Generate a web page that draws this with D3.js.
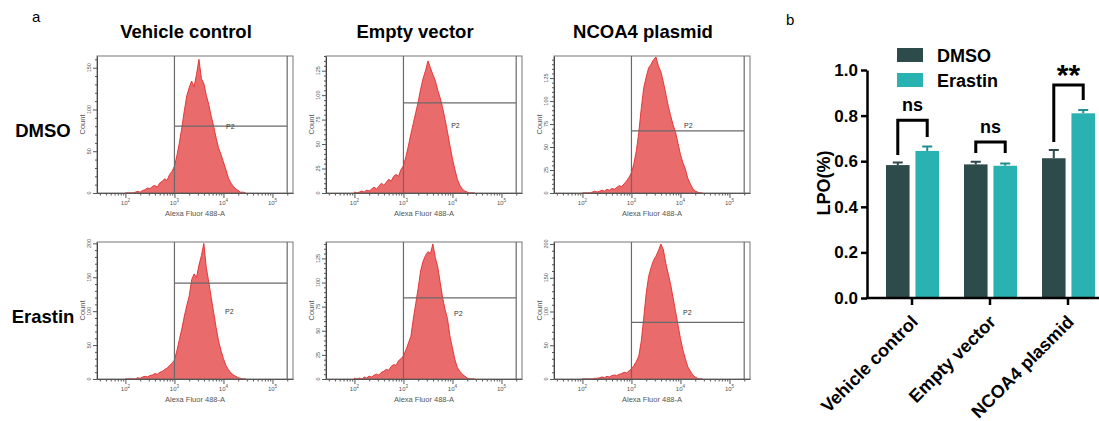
<!DOCTYPE html>
<html>
<head>
<meta charset="utf-8">
<script src="https://cdn.jsdelivr.net/npm/d3@7"></script>
<style>
  body { margin: 0; background: #fff; }
  svg { display: block; font-family: "Liberation Sans", Arial, sans-serif; }
</style>
</head>
<body>
<svg id="fig" width="1099" height="421"></svg>
<script>
// ---- data ----
const conditions = ["Vehicle control", "Empty vector", "NCOA4 plasmid"];
const treatments = ["DMSO", "Erastin"];

// histogram bins: log10 start and step
const binStart = 2.0, binStep = 0.05;

const histVehicleDMSO = [0,0,0,0,1,2,1,3,4,6, 5,8,9,7,12,14,17,15,22,26,
  32,45,60,78,98,116,126,134,127,142, 160,137,131,117,106,92,80,66,54,46,
  37,28,18,12,8,5,3,1,1,0];
const histEmptyDMSO = [1,0,1,2,1,3,2,4,6,4, 7,10,8,11,14,12,17,19,17,24,
  28,37,48,60,71,82,93,106,117,125, 135,128,121,115,105,97,87,75,62,48,
  35,24,14,8,4,2,1,0,0,0];
const histNcoaDMSO = [0,0,0,0,1,2,1,2,3,2, 4,3,5,4,6,8,7,10,13,17,
  22,32,46,66,92,114,126,136,140,145, 148,138,132,121,108,95,84,74,66,54,
  42,33,26,16,10,5,2,1,0,0];
const histVehicleErastin = [0,0,0,0,0,2,1,3,4,3, 5,6,8,7,10,11,14,16,20,23,
  28,42,58,74,92,108,122,146,155,150, 168,182,200,164,143,120,98,76,56,42,
  30,20,14,9,6,4,2,1,0,0];
const histEmptyErastin = [1,0,1,0,2,1,3,2,4,5, 4,7,8,10,9,13,15,14,19,21,
  24,30,37,44,62,78,94,112,122,128, 132,130,140,126,116,100,84,72,62,44,
  32,20,12,8,5,3,1,0,0,0];
const histNcoaErastin = [0,0,0,0,0,1,1,2,3,2, 4,3,5,6,5,7,8,10,9,12,
  15,20,26,34,56,90,126,152,165,176, 182,190,200,192,172,156,140,120,100,80,
  60,43,30,18,12,6,3,1,0,0];

const histCounts = [
  [histVehicleDMSO, histEmptyDMSO, histNcoaDMSO],
  [histVehicleErastin, histEmptyErastin, histNcoaErastin]
];
const countMax = [[164, 140, 149], [202, 142, 203]];
const countStep = [[50, 25, 25], [50, 25, 50]];
const gateCount = [[80, 92, 67.5], [141.5, 84, 84]];
const p2LabelLog = [[4.14, 4.06, 4.16], [4.12, 4.12, 4.14]];
const p2LabelCount = [[80, 68.5, 73], [99, 68, 98]];
const decadeLabels = [2, 3, 4, 5];

// bar chart (LPO %)
const lpoDMSO = [0.583, 0.586, 0.613];
const lpoErastin = [0.645, 0.580, 0.810];
const errDMSO = [0.011, 0.012, 0.036];
const errErastin = [0.019, 0.010, 0.015];
const sigLabels = ["ns", "ns", "**"];
const sigTop = [0.78, 0.684, 0.934];
const sigLeftEnd = [0.627, 0.636, 0.684];
const sigRightEnd = [0.706, 0.636, 0.868];
const lpoTicks = [0, 0.2, 0.4, 0.6, 0.8, 1.0];

// ---- layout ----
const colX = [97, 326, 554], rowY = [56, 242];
const plotW = 196, plotH = 137;
const fillRed = "#e96b6b", lineRed = "#e42a2a";
const colDMSO = "#2e4b4b", colErastin = "#2ab1b1";

const svg = d3.select("#fig");

svg.append("text").attr("x", 32).attr("y", 22).attr("font-size", 15).text("a");
svg.append("text").attr("x", 786).attr("y", 25).attr("font-size", 15).text("b");

conditions.forEach((c, i) => {
  svg.append("text")
      .attr("x", colX[i] + plotW / 2 - 9).attr("y", 38)
      .attr("text-anchor", "middle").attr("font-weight", "bold").attr("font-size", 18.5)
      .text(c);
});
treatments.forEach((t, r) => {
  svg.append("text")
      .attr("x", 43).attr("y", rowY[r] + 81)
      .attr("text-anchor", "middle").attr("font-weight", "bold").attr("font-size", 18.5)
      .text(t);
});

function drawHist(r, c) {
  const counts = histCounts[r][c];
  const g = svg.append("g").attr("transform", `translate(${colX[c]},${rowY[r]})`);
  const x = d3.scaleLog().domain([10 ** 1.42, 262144]).range([0, plotW]);
  const y = d3.scaleLinear().domain([0, countMax[r][c]]).range([plotH, 0]);

  const clipId = `clip${r}${c}`;
  g.append("clipPath").attr("id", clipId)
    .append("rect").attr("width", plotW).attr("height", plotH);

  const pts = counts.map((v, i) => [10 ** (binStart + i * binStep), v]);
  const area = d3.area()
      .x(d => x(d[0]))
      .y0(plotH)
      .y1(d => y(d[1]))
      .curve(d3.curveLinear);
  g.append("path")
      .datum(pts)
      .attr("clip-path", `url(#${clipId})`)
      .attr("d", area)
      .attr("fill", fillRed)
      .attr("stroke", lineRed)
      .attr("stroke-width", 0.9);

  // frame
  g.append("rect").attr("width", plotW).attr("height", plotH)
      .attr("fill", "none").attr("stroke", "#777").attr("stroke-width", 1);

  // P2 gate
  const gx0 = x(1000), gx1 = x(10 ** 5.3), gy = y(gateCount[r][c]);
  g.append("path")
      .attr("d", `M${gx0},0V${plotH}M${gx1},0V${plotH}M${gx0},${gy}H${gx1}`)
      .attr("fill", "none").attr("stroke", "#6a6a6a").attr("stroke-width", 1.2);
  g.append("text")
      .attr("x", x(10 ** p2LabelLog[r][c])).attr("y", y(p2LabelCount[r][c]) + 2.5)
      .attr("text-anchor", "middle").attr("font-size", 7).attr("fill", "#333")
      .text("P2");

  // x axis
  const xAxis = g.append("g").attr("transform", `translate(0,${plotH})`)
      .call(d3.axisBottom(x).tickValues(x.ticks()).tickSize(2.5).tickSizeOuter(0).tickFormat(() => ""));
  xAxis.select(".domain").attr("stroke", "#555");
  xAxis.selectAll(".tick line").attr("stroke", "#555")
      .attr("y2", d => Number.isInteger(Math.log10(d)) ? 5 : 2.5);
  decadeLabels.forEach(k => {
    const t = g.append("text")
        .attr("x", x(10 ** k)).attr("y", plotH + 12)
        .attr("text-anchor", "middle").attr("font-size", 6).attr("fill", "#555")
        .text("10");
    t.append("tspan").attr("dy", -3).attr("font-size", 4.5).text(k);
  });
  g.append("text")
      .attr("x", plotW / 2).attr("y", plotH + 23)
      .attr("text-anchor", "middle").attr("font-size", 7.5).attr("fill", "#555")
      .text("Alexa Fluor 488-A");

  // y axis
  const step = countStep[r][c];
  const minor = d3.range(0, countMax[r][c] + 0.01, step / 5);
  const yAxis = g.append("g")
      .call(d3.axisLeft(y).tickValues(minor).tickSize(2).tickSizeOuter(0).tickFormat(() => ""));
  yAxis.select(".domain").attr("stroke", "#444");
  yAxis.selectAll(".tick line").attr("stroke", "#555")
      .attr("x2", d => d % step === 0 ? -4 : -2);
  d3.range(0, countMax[r][c] + 0.01, step).forEach(v => {
    g.append("text")
        .attr("transform", `translate(-6,${y(v)}) rotate(-90)`)
        .attr("text-anchor", "middle").attr("font-size", 5.5).attr("fill", "#555")
        .text(v);
  });
  g.append("text")
      .attr("transform", `translate(-12,${plotH / 2}) rotate(-90)`)
      .attr("text-anchor", "middle").attr("font-size", 7.5).attr("fill", "#555")
      .text("Count");
}

for (let r = 0; r < 2; r++) for (let c = 0; c < 3; c++) drawHist(r, c);

// ---- panel b ----
const yB = d3.scaleLinear().domain([0, 1]).range([298, 70]);
const xB = d3.scaleBand().domain(conditions).range([873, 1107]);
const xS = d3.scaleBand().domain(treatments).range([13, 66]).paddingInner(0.2);

const bars = [];
conditions.forEach((c, i) => {
  bars.push({ cond: c, trt: "DMSO", v: lpoDMSO[i], e: errDMSO[i], col: colDMSO, cap: "#2e4b4b" });
  bars.push({ cond: c, trt: "Erastin", v: lpoErastin[i], e: errErastin[i], col: colErastin, cap: "#1f8e8e" });
});

const gb = svg.append("g");
gb.selectAll("path.err")
  .data(bars)
  .join("path")
    .attr("d", d => {
      const cx = xB(d.cond) + xS(d.trt) + xS.bandwidth() / 2;
      return `M${cx},${yB(d.v)}V${yB(d.v + d.e)}M${cx - 5},${yB(d.v + d.e)}H${cx + 5}`;
    })
    .attr("stroke", d => d.cap).attr("stroke-width", 2).attr("fill", "none");
gb.selectAll("rect.bar")
  .data(bars)
  .join("rect")
    .attr("x", d => xB(d.cond) + xS(d.trt))
    .attr("y", d => yB(d.v))
    .attr("width", xS.bandwidth())
    .attr("height", d => yB(0) - yB(d.v))
    .attr("fill", d => d.col);

// significance brackets
conditions.forEach((c, i) => {
  const xl = xB(c) + xS("DMSO") + xS.bandwidth() / 2;
  const xr = xB(c) + xS("Erastin") + xS.bandwidth() / 2;
  gb.append("path")
      .attr("d", `M${xl},${yB(sigLeftEnd[i])}V${yB(sigTop[i])}H${xr}V${yB(sigRightEnd[i])}`)
      .attr("fill", "none").attr("stroke", "#000").attr("stroke-width", 3);
  const star = sigLabels[i] === "**";
  gb.append("text")
      .attr("x", (xl + xr) / 2)
      .attr("y", yB(sigTop[i]) - (star ? 0 : 9))
      .attr("text-anchor", "middle").attr("font-weight", "bold")
      .attr("font-size", star ? 30 : 18)
      .text(sigLabels[i]);
});

// axes
const yAx = svg.append("g").attr("transform", "translate(867,0)")
    .call(d3.axisLeft(yB).tickValues(lpoTicks).tickFormat(d3.format(".1f")).tickSize(6).tickPadding(3).tickSizeOuter(0));
yAx.select(".domain").attr("stroke-width", 2.5);
yAx.selectAll(".tick line").attr("stroke-width", 2.5);
yAx.selectAll("text").attr("font-size", 17).attr("font-weight", "bold")
    .attr("font-family", "Liberation Sans, Arial, sans-serif").attr("fill", "#000");

const xAx = svg.append("g").attr("transform", "translate(0,298)")
    .call(d3.axisBottom(xB).tickSize(7).tickSizeOuter(0));
xAx.select(".domain").remove();
xAx.selectAll(".tick line").attr("stroke-width", 2.5);
xAx.selectAll("text")
    .attr("x", 0).attr("y", 0).attr("dy", 0)
    .attr("transform", "translate(7,25) rotate(-45)")
    .attr("text-anchor", "end")
    .attr("font-size", 18).attr("font-weight", "bold")
    .attr("font-family", "Liberation Sans, Arial, sans-serif").attr("fill", "#000");
svg.append("line")
    .attr("x1", 866).attr("x2", 1099).attr("y1", yB(0)).attr("y2", yB(0))
    .attr("stroke", "#000").attr("stroke-width", 2.5);

svg.append("text")
    .attr("transform", `translate(830,${yB(0.5) - 1}) rotate(-90)`)
    .attr("text-anchor", "middle").attr("font-weight", "bold").attr("font-size", 18)
    .text("LPO(%)");

// legend
treatments.forEach((t, i) => {
  svg.append("rect").attr("x", 897).attr("y", 48 + i * 25).attr("width", 26).attr("height", 14)
      .attr("fill", i === 0 ? colDMSO : colErastin);
  svg.append("text").attr("x", 937).attr("y", 62 + i * 25)
      .attr("font-weight", "bold").attr("font-size", 18).text(t);
});
</script>
</body>
</html>
